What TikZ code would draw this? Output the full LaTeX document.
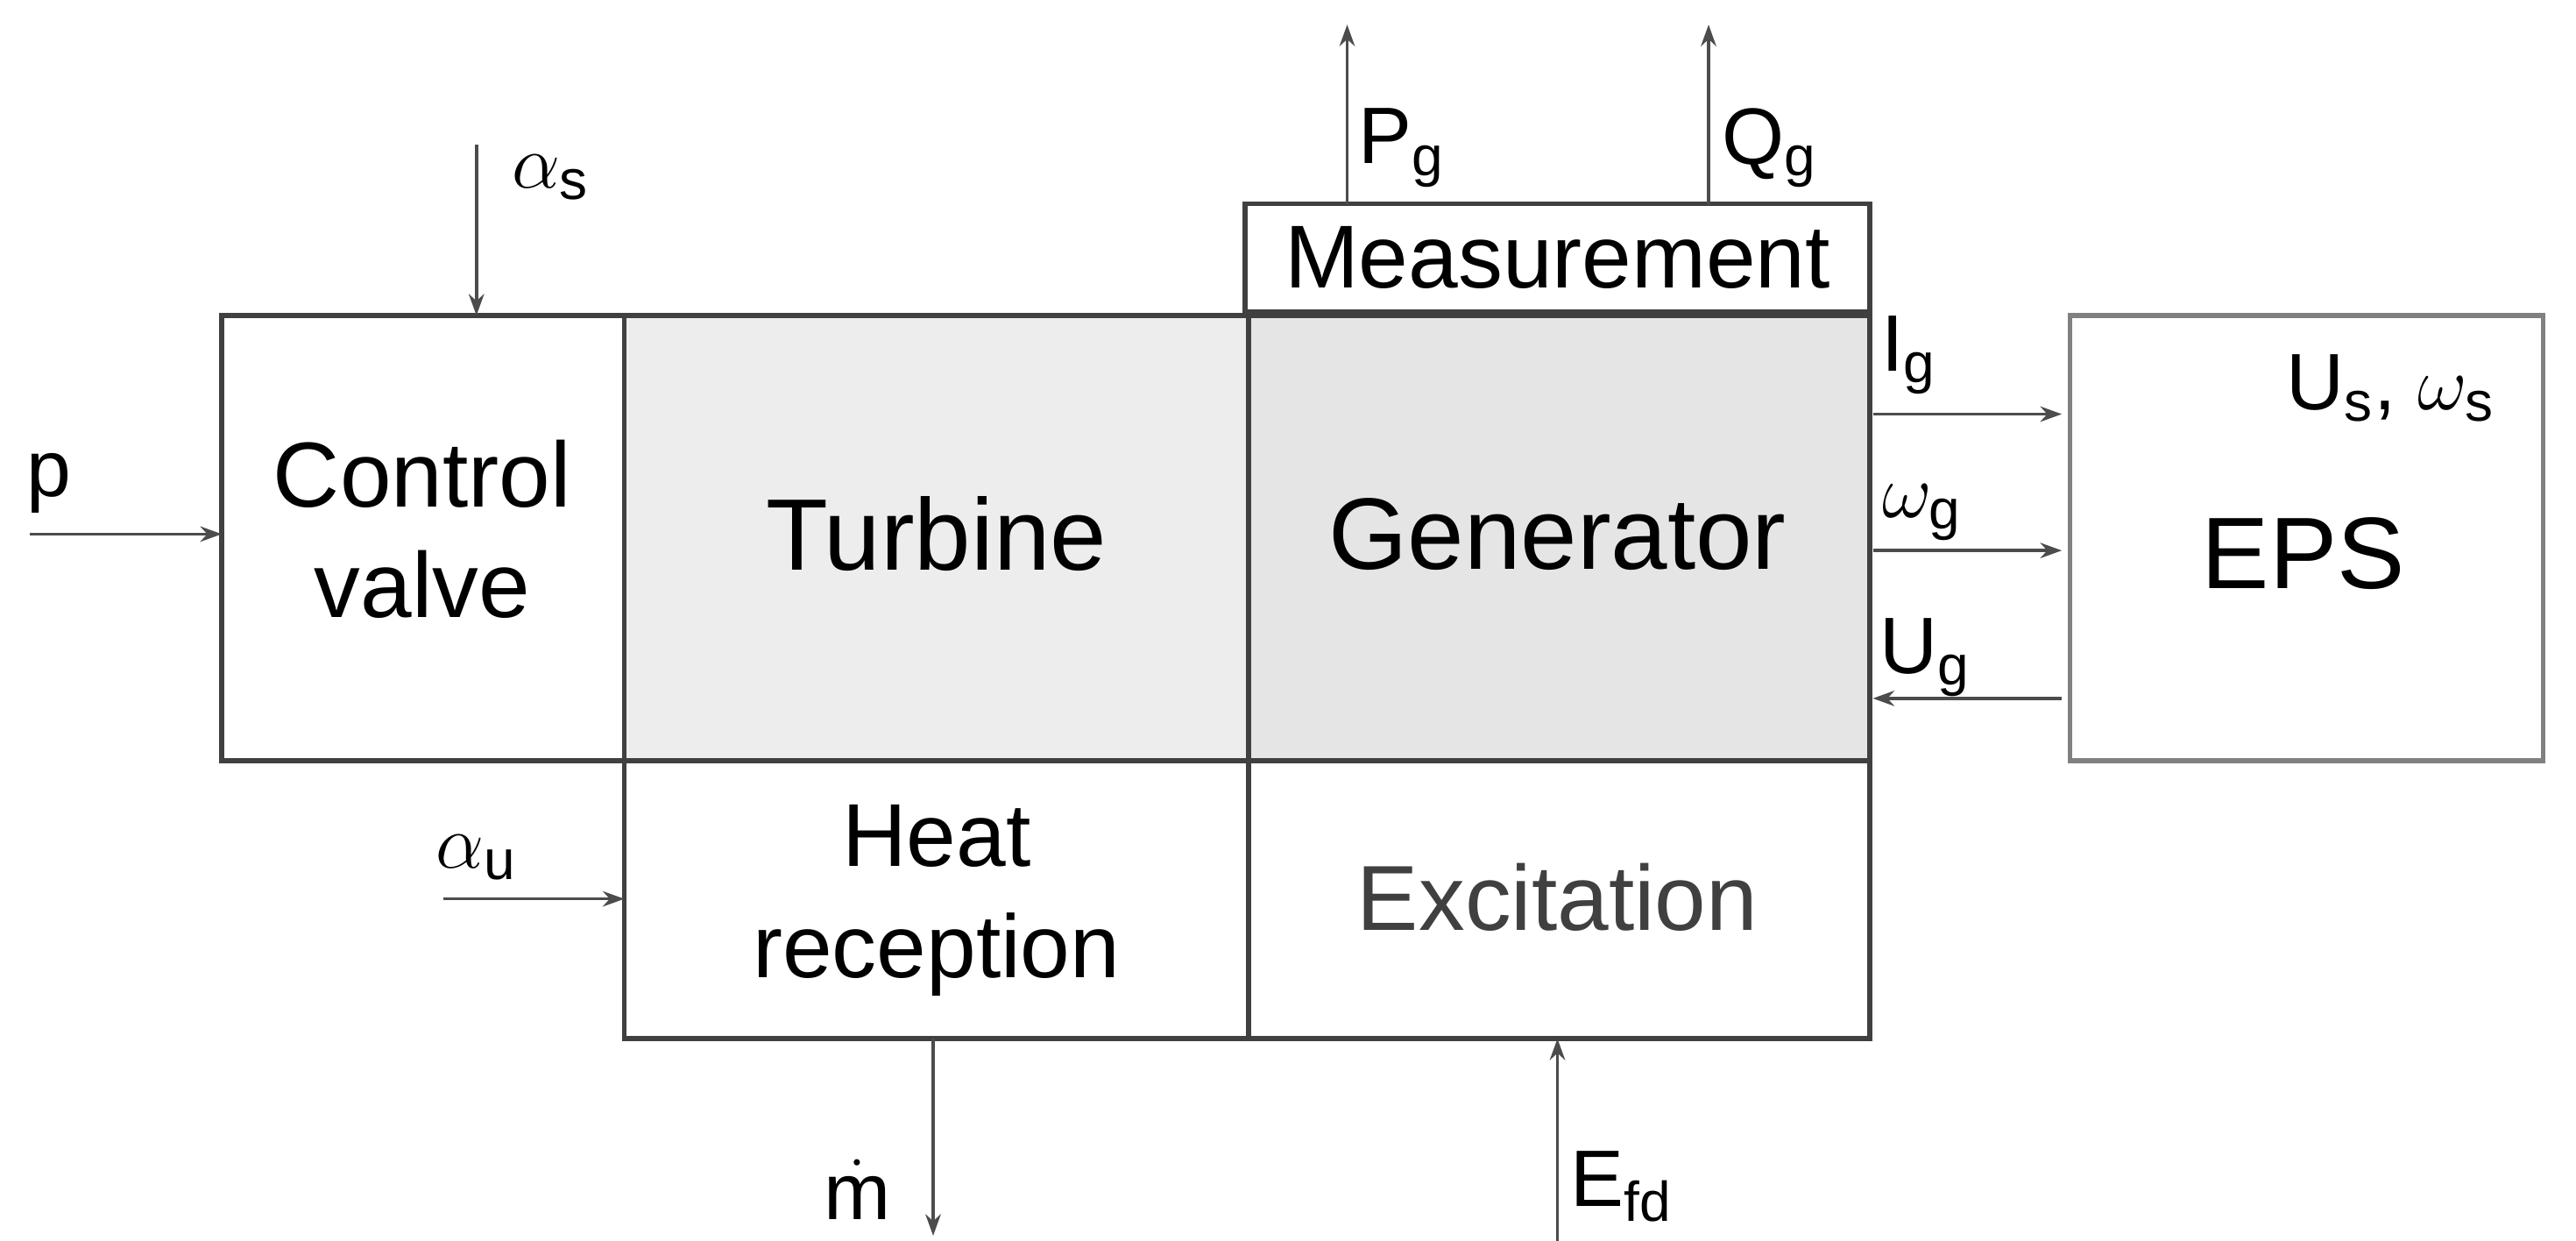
\documentclass[tikz,border=0pt]{standalone}
\usepackage{fontspec}
\setmainfont{Liberation Sans}
\usetikzlibrary{arrows.meta}
\begin{document}
\begin{tikzpicture}[x=0.01875cm,y=-0.01875cm,
  blk/.style={draw=black!75,line width=1.6pt},
  arr/.style={draw=black!70,line width=1pt,-{Stealth[length=7pt,width=5pt]}},
  big/.style={font=\fontsize{33}{38}\selectfont},
  mid/.style={font=\fontsize{30}{36}\selectfont},
  lab/.style={font=\fontsize{26}{30}\selectfont}]
\useasboundingbox (0,0) rectangle (1568,755);
\draw[blk] (135,192) rectangle (380,463);
\draw[blk,fill=black!7] (380,192) rectangle (760,463);
\draw[blk,fill=black!10] (760,192) rectangle (1138,463);
\draw[blk] (758,124) rectangle (1138,190);
\draw[blk] (380,463) rectangle (760,632);
\draw[blk] (760,463) rectangle (1138,632);
\draw[blk,draw=black!50] (1260,192) rectangle (1548,463);
\node[mid,align=center] (cv) at (257,322) {Control\\valve};
\node[big] (tu) at (570,325) {Turbine};
\node[big] (ge) at (948,325) {Generator};
\node[font=\fontsize{29}{33}\selectfont] (me) at (948,157) {Measurement};
\node[font=\fontsize{29}{36}\selectfont,align=center] (hr) at (570,548) {Heat\\reception};
\node[font=\fontsize{30}{36}\selectfont,text=black!75] (ex) at (948,546) {Excitation};
\node[big] (eps) at (1402,337) {EPS};
\coordinate (pin) at (18,325); \coordinate (cvl) at (135,325);
\draw[arr] (pin) -- (cvl);
\node[lab] at (30,294) {p};
\coordinate (as) at (290,88); \coordinate (ast) at (290,192);
\draw[arr] (as) -- (ast);
\node[lab] at (335,108) {$\alpha_{\mathrm s}$};
\coordinate (au) at (270,547); \coordinate (hrl) at (380,547);
\draw[arr] (au) -- (hrl);
\node[lab] at (290,522) {$\alpha_{\mathrm u}$};
\coordinate (mb) at (568,632); \coordinate (me2) at (568,752);
\draw[arr] (mb) -- (me2);
\node[lab] at (522,724) {$\dot{\mathrm m}$};
\coordinate (ef) at (948,755); \coordinate (eft) at (948,632);
\draw[arr] (ef) -- (eft);
\node[lab] at (987,722) {E$_{\mathrm{fd}}$};
\coordinate (pg) at (820,124); \coordinate (pgt) at (820,15);
\draw[arr] (pg) -- (pgt);
\node[lab] at (853,90) {P$_{\mathrm g}$};
\coordinate (qg) at (1040,124); \coordinate (qgt) at (1040,15);
\draw[arr] (qg) -- (qgt);
\node[lab] at (1077,90) {Q$_{\mathrm g}$};
\coordinate (ig1) at (1140,252); \coordinate (ig2) at (1255,252);
\draw[arr] (ig1) -- (ig2);
\node[lab] at (1162,216) {I$_{\mathrm g}$};
\coordinate (wg1) at (1140,335); \coordinate (wg2) at (1255,335);
\draw[arr] (wg1) -- (wg2);
\node[lab] at (1170,312) {$\omega_{\mathrm g}$};
\coordinate (ug1) at (1255,425); \coordinate (ug2) at (1140,425);
\draw[arr] (ug1) -- (ug2);
\node[lab] at (1172,400) {U$_{\mathrm g}$};
\node[lab] at (1455,236) {U$_{\mathrm s}$, $\omega_{\mathrm s}$};
\end{tikzpicture}
\end{document}
